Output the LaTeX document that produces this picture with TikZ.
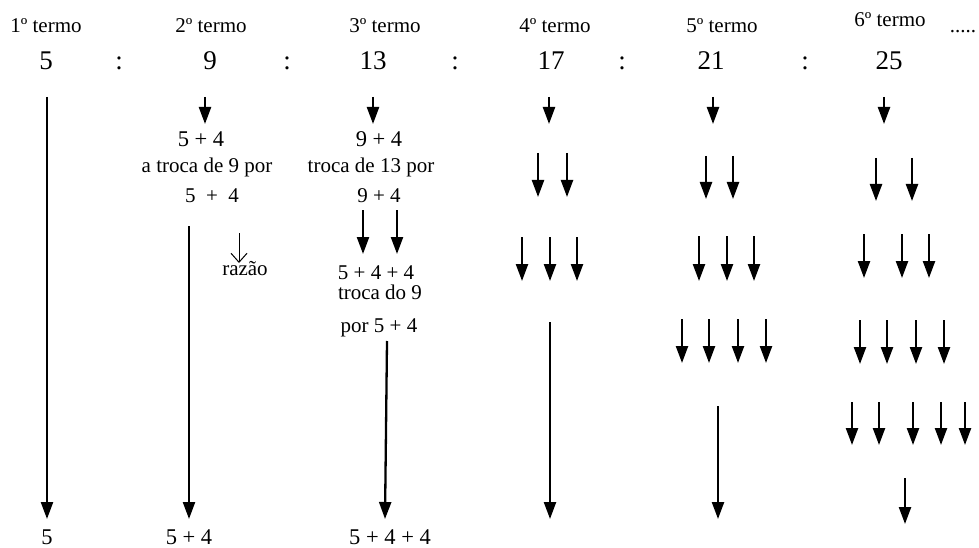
\documentclass[tikz,border=0pt]{standalone}
\usepackage{fontspec}
\setmainfont{Liberation Serif}
\usetikzlibrary{arrows.meta}

\tikzset{
  txt/.style={anchor=base, inner sep=0pt, font=\fontsize{21}{24}\selectfont},
  num/.style={txt, font=\fontsize{27}{30}\selectfont},
  sum/.style={txt, font=\fontsize{22.5}{26}\selectfont},
  arr/.style={line width=2.3pt, -{Triangle[length=17pt,width=12pt]}},
  thinarr/.style={line width=1pt, -{Straight Barb[length=9pt,width=16pt]}}
}

\begin{document}
\begin{tikzpicture}[x=1pt,y=-1pt]
\useasboundingbox (0,0) rectangle (979,548);

% headings
\node[txt] (h1) at (46,33)  {1º termo};
\node[txt] (h2) at (211,33) {2º termo};
\node[txt] (h3) at (385,33) {3º termo};
\node[txt] (h4) at (555,33) {4º termo};
\node[txt] (h5) at (722,33) {5º termo};
\node[txt] (h6) at (890,27) {6º termo};
\node[txt] (dots) at (963,33) {.....};

% the sequence
\node[num] (t1) at (46,70)  {5};
\node[num] (c1) at (119,70) {:};
\node[num] (t2) at (210,70) {9};
\node[num] (c2) at (287,70) {:};
\node[num] (t3) at (373,70) {13};
\node[num] (c3) at (455,70) {:};
\node[num] (t4) at (551,70) {17};
\node[num] (c4) at (622,70) {:};
\node[num] (t5) at (711,70) {21};
\node[num] (c5) at (805,70) {:};
\node[num] (t6) at (889,70) {25};

% first arrow under each term
\foreach \x in {205,373,549,713,884}
  \draw[arr] (\x,97) -- (\x,124);

% second term
\node[sum] (a1) at (201,147) {5 + 4};
\node[txt] (a2) at (207,173) {a troca de 9 por};
\node[txt] (a3) at (212,203) {5 \ + \ 4};
\draw[thinarr] (239,233) -- (239,263);
\node[txt] (raz) at (245,275) {razão};

% third term
\node[sum] (b1) at (379,147) {9 + 4};
\node[txt] (b2) at (371,173) {troca de 13 por};
\node[txt] (b3) at (379,203) {9 + 4};
\foreach \x in {363,397}
  \draw[arr] (\x,210) -- (\x,254);
\node[txt] (b4) at (376,279) {5 + 4 + 4};
\node[txt] (b5) at (380,299) {troca do 9};
\node[txt] (b6) at (379,332) {por 5 + 4};

% fourth term
\foreach \x in {538,567}
  \draw[arr] (\x,153) -- (\x,197);
\foreach \x in {522,550,577}
  \draw[arr] (\x,237) -- (\x,281);

% fifth term
\foreach \x in {706,733}
  \draw[arr] (\x,156) -- (\x,199);
\foreach \x in {699,727,754}
  \draw[arr] (\x,236) -- (\x,281);
\foreach \x in {682,709,738,766}
  \draw[arr] (\x,319) -- (\x,363);

% sixth term
\foreach \x in {876,912}
  \draw[arr] (\x,158) -- (\x,201);
\foreach \x in {864,902,929}
  \draw[arr] (\x,234) -- (\x,278);
\foreach \x in {860,887,916,944}
  \draw[arr] (\x,320) -- (\x,364);
\foreach \x in {852,879,913,941,965}
  \draw[arr] (\x,402) -- (\x,445);
\draw[arr] (905,478) -- (905,524);

% long arrows down to the bottom row
\draw[arr] (47,97) -- (47,519);
\draw[arr] (189,226) -- (189,519);
\draw[arr] (387,341) -- (385,519);
\draw[arr] (550,322) -- (550,519);
\draw[arr] (718,406) -- (718,519);

% bottom row
\node[sum] (e1) at (47,544)  {5};
\node[sum] (e2) at (189,544) {5 + 4};
\node[sum] (e3) at (390,544) {5 + 4 + 4};
\end{tikzpicture}
\end{document}
